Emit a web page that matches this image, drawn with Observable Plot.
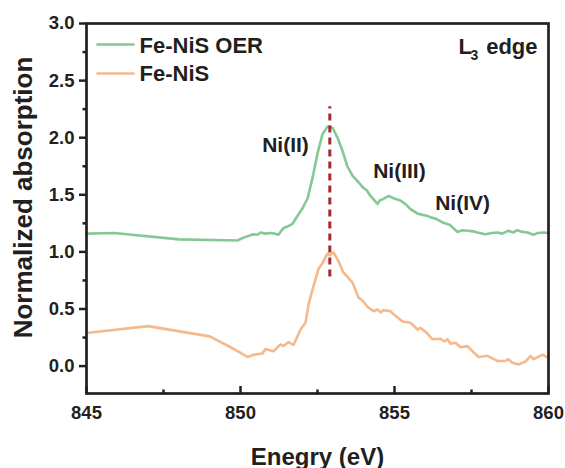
<!DOCTYPE html>
<html>
<head>
<meta charset="utf-8">
<script src="https://cdn.jsdelivr.net/npm/d3@7"></script>
<script src="https://cdn.jsdelivr.net/npm/@observablehq/plot@0.6"></script>
<style>
  html, body { margin: 0; padding: 0; background: #fff; }
  #chart { width: 565px; height: 468px; }
</style>
</head>
<body>
<div id="chart"></div>
<script>
// ---- data ----
const seriesNames = ["Fe-NiS OER", "Fe-NiS"];
const seriesColors = ["#84c995", "#f6b98c"];

const energyOER = [845, 845.9, 848.0, 849.9, 850.1, 850.42, 850.55, 850.65, 850.8, 850.97, 851.1, 851.23, 851.4, 851.55, 851.69, 851.79, 852.01, 852.18, 852.34, 852.5, 852.66, 852.82, 852.9, 852.99, 853.15, 853.31, 853.47, 853.64, 853.8, 853.99, 854.1, 854.22, 854.45, 854.52, 854.61, 854.81, 854.97, 855.19, 855.35, 855.52, 855.75, 856.07, 856.2, 856.35, 856.59, 856.8, 857.05, 857.2, 857.37, 857.55, 857.69, 857.95, 858.15, 858.34, 858.5, 858.7, 858.85, 858.99, 859.15, 859.32, 859.51, 859.65, 859.84, 860];
const absOER    = [1.16, 1.165, 1.11, 1.10, 1.125, 1.155, 1.15, 1.17, 1.16, 1.165, 1.16, 1.15, 1.21, 1.225, 1.245, 1.29, 1.38, 1.47, 1.65, 1.86, 2.03, 2.095, 2.10, 2.085, 2.0, 1.885, 1.75, 1.665, 1.62, 1.56, 1.54, 1.49, 1.42, 1.45, 1.46, 1.49, 1.47, 1.45, 1.42, 1.375, 1.335, 1.315, 1.30, 1.29, 1.255, 1.235, 1.175, 1.19, 1.185, 1.18, 1.17, 1.155, 1.165, 1.17, 1.16, 1.185, 1.17, 1.19, 1.175, 1.17, 1.15, 1.165, 1.17, 1.165];

const energyFe = [845, 847, 849, 849.68, 850.23, 850.42, 850.71, 850.81, 851.07, 851.3, 851.4, 851.56, 851.72, 851.95, 852.11, 852.21, 852.37, 852.53, 852.66, 852.82, 852.89, 853.02, 853.18, 853.34, 853.64, 853.83, 853.99, 854.12, 854.32, 854.45, 854.55, 854.64, 854.87, 855.03, 855.26, 855.52, 855.75, 855.84, 856.07, 856.23, 856.49, 856.62, 856.72, 856.82, 856.98, 857.14, 857.37, 857.53, 857.73, 858.02, 858.34, 858.6, 858.7, 858.83, 859.03, 859.25, 859.42, 859.51, 859.81, 860];
const absFe    = [0.29, 0.35, 0.26, 0.165, 0.08, 0.10, 0.11, 0.15, 0.13, 0.19, 0.175, 0.21, 0.185, 0.32, 0.38, 0.54, 0.70, 0.85, 0.90, 0.985, 0.97, 0.995, 0.92, 0.82, 0.73, 0.60, 0.565, 0.52, 0.48, 0.495, 0.47, 0.49, 0.48, 0.44, 0.39, 0.38, 0.32, 0.335, 0.285, 0.235, 0.24, 0.215, 0.235, 0.195, 0.205, 0.165, 0.175, 0.13, 0.08, 0.09, 0.045, 0.045, 0.06, 0.03, 0.015, 0.04, 0.09, 0.06, 0.10, 0.07];

const peakEnergy = [852.9];
const peakRange = [0.78, 2.27];

const annotationText = ["Ni(II)", "Ni(III)", "Ni(IV)"];
const annotationEnergy = [851.46, 855.16, 857.21];
const annotationAbs = [1.93, 1.71, 1.43];

const xTicks = [845, 850, 855, 860];
const xMinorTicks = [847.5, 852.5, 857.5];
const yTicks = [0, 0.5, 1.0, 1.5, 2.0, 2.5, 3.0];
const yMinorTicks = [0.25, 0.75, 1.25, 1.75, 2.25, 2.75];

const xTitle = "Enegry (eV)";
const yTitle = "Normalized absorption";

// ---- tables built from arrays ----
const oer = energyOER.map((e, i) => ({energy: e, abs: absOER[i]}));
const fe = energyFe.map((e, i) => ({energy: e, abs: absFe[i]}));
const peak = peakEnergy.map(e => ({energy: e, y1: peakRange[0], y2: peakRange[1]}));
const annotations = annotationText.map((t, i) => ({text: t, energy: annotationEnergy[i], abs: annotationAbs[i]}));

const lineShape = {draw(ctx, l) { ctx.moveTo(0, 0); ctx.lineTo(0, -l); }};
const ink = "#231f20";
const bold = "bold";

const chart = Plot.plot({
  width: 565,
  height: 468,
  marginLeft: 86,
  marginRight: 17,
  marginTop: 23,
  marginBottom: 75,
  style: {fontFamily: "'Liberation Sans', Arial, sans-serif", color: ink, background: "#fff", overflow: "visible"},
  x: {domain: [845, 860], axis: null},
  y: {domain: [-0.24, 3.0], axis: null},
  marks: [
    Plot.line(oer, {x: "energy", y: "abs", stroke: seriesColors[0], strokeWidth: 2.6}),
    Plot.line(fe, {x: "energy", y: "abs", stroke: seriesColors[1], strokeWidth: 2.6}),
    Plot.ruleX(peak, {x: "energy", y1: "y1", y2: "y2", stroke: "#a8272d", strokeWidth: 3, strokeDasharray: "7,5"}),
    Plot.text(annotations, {x: "energy", y: "abs", text: "text", fontSize: 21, fontWeight: bold, fill: ink}),
    // legend
    Plot.vector([seriesNames[0]], {frameAnchor: "top-left", dx: 11, dy: 21, rotate: 90, length: 36, anchor: "start", shape: lineShape, stroke: seriesColors[0], strokeWidth: 2.6}),
    Plot.text([seriesNames[0]], {frameAnchor: "top-left", dx: 53, dy: 22, text: d => d, textAnchor: "start", lineAnchor: "middle", fontSize: 22, fontWeight: bold, fill: ink}),
    Plot.vector([seriesNames[1]], {frameAnchor: "top-left", dx: 11, dy: 50, rotate: 90, length: 36, anchor: "start", shape: lineShape, stroke: seriesColors[1], strokeWidth: 2.6}),
    Plot.text([seriesNames[1]], {frameAnchor: "top-left", dx: 53, dy: 50, text: d => d, textAnchor: "start", lineAnchor: "middle", fontSize: 22, fontWeight: bold, fill: ink}),
    // L3 edge
    Plot.text(["L"], {frameAnchor: "top-right", dx: -90, dy: 30, text: d => d, textAnchor: "start", lineAnchor: "bottom", fontSize: 22, fontWeight: bold, fill: ink}),
    Plot.text(["3"], {frameAnchor: "top-right", dx: -78, dy: 36, text: d => d, textAnchor: "start", lineAnchor: "bottom", fontSize: 14, fontWeight: bold, fill: ink}),
    Plot.text(["edge"], {frameAnchor: "top-right", dx: -11, dy: 30, text: d => d, textAnchor: "end", lineAnchor: "bottom", fontSize: 22, fontWeight: bold, fill: ink}),
    // axes
    Plot.axisY(yTicks, {anchor: "left", tickSize: 7, strokeWidth: 2.5, fill: "none", label: null}),
    Plot.axisY(yMinorTicks, {anchor: "left", tickSize: 3.5, strokeWidth: 2.5, fill: "none", label: null}),
    Plot.axisY(yTicks, {anchor: "left", tickSize: 0, tickPadding: 12, tickFormat: d => d.toFixed(1), fontSize: 18.5, fontWeight: bold, label: null}),
    Plot.axisX(xTicks, {anchor: "bottom", tickSize: -7, strokeWidth: 2.5, fill: "none", label: null}),
    Plot.axisX(xMinorTicks, {anchor: "bottom", tickSize: -3.5, strokeWidth: 2.5, fill: "none", label: null}),
    Plot.axisX(xTicks, {anchor: "bottom", tickSize: 0, tickPadding: 12, tickFormat: d => String(d), fontSize: 18.5, fontWeight: bold, label: null}),
    Plot.frame({stroke: ink, strokeWidth: 2.7}),
    // titles
    Plot.text([xTitle], {frameAnchor: "bottom", dy: 71, text: d => d, textAnchor: "middle", lineAnchor: "bottom", fontSize: 24, fontWeight: bold, fill: ink}),
    Plot.text([yTitle], {frameAnchor: "left", dx: -63, dy: -11, rotate: -90, text: d => d, textAnchor: "middle", lineAnchor: "middle", fontSize: 26, fontWeight: bold, fill: ink})
  ]
});
document.getElementById("chart").appendChild(chart);
</script>
</body>
</html>
